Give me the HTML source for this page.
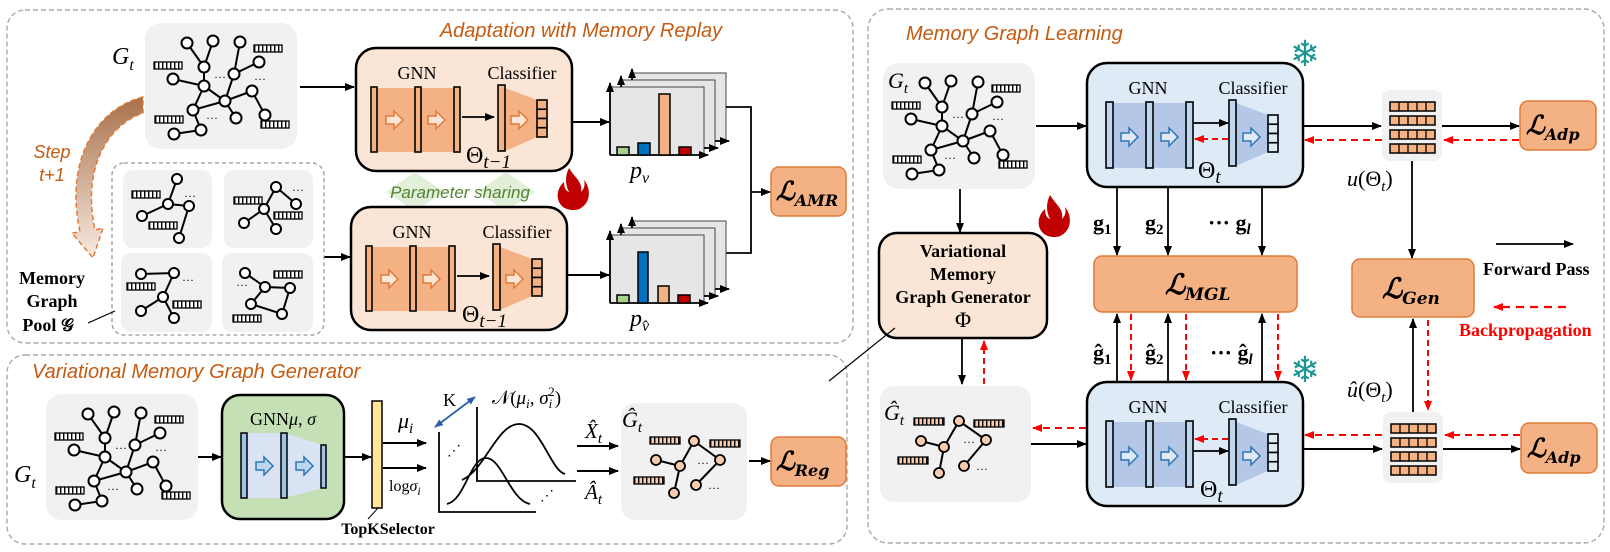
<!DOCTYPE html>
<html><head><meta charset="utf-8"><style>html,body{margin:0;padding:0;background:#fff}svg{display:block}</style></head><body>
<svg width="1610" height="552" viewBox="0 0 1610 552" xmlns="http://www.w3.org/2000/svg" font-family="Liberation Serif, serif">
<defs>
<marker id="ab" viewBox="0 0 10 8" refX="9" refY="4" markerWidth="10" markerHeight="8" markerUnits="userSpaceOnUse" orient="auto"><path d="M0,0 L10,4 L0,8 Z" fill="#000"/></marker>
<marker id="ar" viewBox="0 0 10 8" refX="9" refY="4" markerWidth="10" markerHeight="8" markerUnits="userSpaceOnUse" orient="auto"><path d="M0,0 L10,4 L0,8 Z" fill="#f00"/></marker>
<marker id="abl" viewBox="0 0 10 8" refX="9" refY="4" markerWidth="9" markerHeight="7" markerUnits="userSpaceOnUse" orient="auto-start-reverse"><path d="M0,0 L10,4 L0,8 Z" fill="#2e5fa6"/></marker>
<pattern id="st" width="4" height="8" patternUnits="userSpaceOnUse"><rect width="4" height="8" fill="#fff"/><rect width="1.4" height="8" fill="#000"/></pattern>
<pattern id="sto" width="4" height="8" patternUnits="userSpaceOnUse"><rect width="4" height="8" fill="#f8cbad"/><rect width="1.4" height="8" fill="#000"/></pattern>
<linearGradient id="stepg" x1="0" y1="0" x2="0" y2="1"><stop offset="0" stop-color="#a8704a"/><stop offset="1" stop-color="#f8ebe2"/></linearGradient>
<g id="feat"><rect x="0" y="0" width="28" height="7" fill="url(#st)" stroke="#000" stroke-width="1.3"/></g>
<g id="featO"><rect x="0" y="0" width="30" height="7" fill="url(#sto)" stroke="#000" stroke-width="1.3"/></g>
<path id="harr" d="M-8,-4 H0 V-9 L9,0 L0,9 V4 H-8 Z"/>
<g id="graph">
<rect x="0" y="0" width="152" height="126" rx="16" fill="#f1f1f1"/>
<g stroke="#000" stroke-width="2" fill="none">
<path d="M42,20 L59,44 M68,18 L59,44 M59,44 L59,63 M28,56 L59,63 M95,19 L89,51 M114,39 L89,51 M89,51 L80,78 M59,63 L80,78 M80,78 L107,68 M107,68 L120,92 M80,78 L91,95 M80,78 L48,87 M59,63 L48,87 M48,87 L56,107 M56,107 L29,111"/>
</g>
<g fill="#fff" stroke="#000" stroke-width="2">
<circle cx="42" cy="20" r="5.5"/><circle cx="68" cy="18" r="5.5"/><circle cx="95" cy="19" r="5.5"/><circle cx="59" cy="44" r="5.5"/><circle cx="89" cy="51" r="5.5"/><circle cx="114" cy="39" r="5.5"/><circle cx="28" cy="56" r="5.5"/><circle cx="59" cy="63" r="5.5"/><circle cx="107" cy="68" r="5.5"/><circle cx="80" cy="78" r="5.5"/><circle cx="48" cy="87" r="5.5"/><circle cx="91" cy="95" r="5.5"/><circle cx="120" cy="92" r="5.5"/><circle cx="56" cy="107" r="5.5"/><circle cx="29" cy="111" r="5.5"/>
</g>
<use href="#feat" x="9" y="39"/><use href="#feat" x="109" y="22"/><use href="#feat" x="10" y="93"/><use href="#feat" x="116" y="98"/>
<text x="75" y="58" font-size="12" text-anchor="middle">···</text><text x="115" y="60" font-size="12" text-anchor="middle">···</text><text x="67" y="99" font-size="12" text-anchor="middle">···</text>
</g>
<g id="mO">
<rect x="0" y="0" width="216" height="123" rx="20" fill="#fbe5d6" stroke="#000" stroke-width="2.5"/>
<rect x="18" y="40" width="83" height="64" fill="#f4b183"/>
<polygon points="149,40 181,52 181,89 149,103" fill="#f4b183"/>
<g fill="#f4b183" stroke="#000" stroke-width="1.6"><rect x="15" y="39" width="6" height="65"/><rect x="59" y="39" width="6" height="65"/><rect x="98" y="39" width="6" height="65"/><rect x="142" y="37" width="7" height="66"/></g>
<g fill="#f4b183" stroke="#000" stroke-width="1.6"><rect x="181" y="52" width="10" height="9.25"/><rect x="181" y="61.25" width="10" height="9.25"/><rect x="181" y="70.5" width="10" height="9.25"/><rect x="181" y="79.75" width="10" height="9.25"/></g>
<g fill="#fbe5d6" stroke="#e07b39" stroke-width="1.5"><use href="#harr" x="38" y="72"/><use href="#harr" x="80" y="72"/><use href="#harr" x="163" y="72"/></g>
<line x1="106" y1="69" x2="138" y2="69" stroke="#000" stroke-width="1.8" marker-end="url(#ab)"/>
<text x="61" y="31" font-size="18" text-anchor="middle">GNN</text><text x="166" y="31" font-size="18" text-anchor="middle">Classifier</text>
</g>
<g id="mB">
<rect x="0" y="0" width="216" height="124" rx="20" fill="#deebf7" stroke="#000" stroke-width="2.5"/>
<rect x="20" y="40" width="81" height="65" fill="#b4c7e7"/>
<polygon points="149,40 181,52 181,89 149,103" fill="#b4c7e7"/>
<g fill="#bdd7ee" stroke="#000" stroke-width="1.6"><rect x="19" y="39" width="7" height="66"/><rect x="59" y="39" width="7" height="66"/><rect x="99" y="39" width="7" height="66"/><rect x="142" y="37" width="7" height="66"/></g>
<g fill="#deebf7" stroke="#000" stroke-width="1.6"><rect x="181" y="52" width="10" height="9.25"/><rect x="181" y="61.25" width="10" height="9.25"/><rect x="181" y="70.5" width="10" height="9.25"/><rect x="181" y="79.75" width="10" height="9.25"/></g>
<g fill="#deebf7" stroke="#2e75b6" stroke-width="1.5"><use href="#harr" x="42" y="74"/><use href="#harr" x="82" y="74"/><use href="#harr" x="164" y="74"/></g>
<text x="61" y="31" font-size="18" text-anchor="middle">GNN</text><text x="166" y="31" font-size="18" text-anchor="middle">Classifier</text>
</g>
<g id="chart">
<rect x="22" y="-14" width="94" height="68" fill="#e7e6e6" stroke="#444" stroke-width="1"/>
<rect x="11" y="-7" width="94" height="68" fill="#e7e6e6" stroke="#444" stroke-width="1"/>
<rect x="0" y="0" width="94" height="68" fill="#e7e6e6" stroke="#444" stroke-width="1"/>
<g stroke="#000" stroke-width="1.8" fill="none">
<line x1="0" y1="68" x2="0" y2="-4" marker-end="url(#ab)"/><line x1="0" y1="68" x2="98" y2="68" marker-end="url(#ab)"/>
<line x1="11" y1="0" x2="11" y2="-11" marker-end="url(#ab)"/><line x1="94" y1="61" x2="108" y2="61" marker-end="url(#ab)"/>
<line x1="22" y1="-7" x2="22" y2="-18" marker-end="url(#ab)"/><line x1="105" y1="54" x2="119" y2="54" marker-end="url(#ab)"/>
</g>
</g>
<g id="ember">
<rect x="0" y="0" width="60" height="71" rx="8" fill="#f1f1f1"/>
<g fill="#f4b183" stroke="#000" stroke-width="1.5">
<rect x="8" y="12" width="45" height="9"/><rect x="8" y="26" width="45" height="9"/><rect x="8" y="40" width="45" height="9"/><rect x="8" y="54" width="45" height="9"/>
</g>
<g stroke="#000" stroke-width="1.3"><path d="M17,12 v9 M26,12 v9 M35,12 v9 M44,12 v9 M17,26 v9 M26,26 v9 M35,26 v9 M44,26 v9 M17,40 v9 M26,40 v9 M35,40 v9 M44,40 v9 M17,54 v9 M26,54 v9 M35,54 v9 M44,54 v9"/></g>
</g>
<path id="fire" d="M14,0 C20,10 28,14 26,24 C30,20 30,16 29,12 C36,20 36,34 26,40 C22,43 12,43 7,38 C0,31 2,20 9,14 C9,20 11,23 14,24 C10,16 10,8 14,0 Z" fill="#c00000"/>
</defs>

<!-- panels -->
<rect x="7" y="10" width="846" height="333" rx="18" fill="none" stroke="#aaa" stroke-width="1.4" stroke-dasharray="5,3"/>
<rect x="7" y="355" width="840" height="189" rx="18" fill="none" stroke="#aaa" stroke-width="1.4" stroke-dasharray="5,3"/>
<rect x="868" y="9" width="736" height="534" rx="20" fill="none" stroke="#aaa" stroke-width="1.4" stroke-dasharray="5,3"/>

<!-- ===== top-left ===== -->
<text x="581" y="37" font-family="Liberation Sans, sans-serif" font-style="italic" font-size="20" fill="#c55a11" text-anchor="middle">Adaptation with Memory Replay</text>
<use href="#graph" x="145" y="23"/>
<text x="112" y="64" font-size="24" font-style="italic">G<tspan font-size="16" dy="6">t</tspan></text>
<line x1="300" y1="87" x2="354" y2="87" stroke="#000" stroke-width="2" marker-end="url(#ab)"/>
<use href="#mO" x="356" y="48"/>
<text x="466" y="163" font-size="24">Θ<tspan font-size="19" font-style="italic" dy="5">t−1</tspan></text>
<line x1="572" y1="122" x2="609" y2="122" stroke="#000" stroke-width="2" marker-end="url(#ab)"/>
<use href="#chart" x="610" y="87"/>
<g stroke="#000" stroke-width="1.5"><rect x="617" y="147" width="12" height="8" fill="#a9d18e"/><rect x="638" y="143" width="12" height="12" fill="#0070c0"/><rect x="659" y="94" width="11" height="61" fill="#f4b183"/><rect x="679" y="147" width="12" height="8" fill="#c00000"/></g>
<text x="630" y="178" font-size="24" font-style="italic">p<tspan font-size="16" dy="5">v</tspan></text>

<path d="M726,107 H751 V253 H726" fill="none" stroke="#000" stroke-width="1.8"/>
<line x1="751" y1="192" x2="770" y2="192" stroke="#000" stroke-width="1.8" marker-end="url(#ab)"/>
<rect x="771" y="167" width="75" height="49" rx="8" fill="#f4b183" stroke="#e07b39" stroke-width="1.5"/>
<text x="776" y="200" font-family="DejaVu Serif, serif" font-weight="bold" font-style="italic" font-size="26">ℒ<tspan font-size="16" dy="6">AMR</tspan></text>

<!-- parameter sharing -->
<polygon points="415,172 444,192 415,211 386,192" fill="#e2f0d9"/>
<polygon points="506,172 535,192 506,211 477,192" fill="#e2f0d9"/>
<text x="460" y="198" font-family="Liberation Sans, sans-serif" font-style="italic" font-size="17" fill="#548235" text-anchor="middle">Parameter sharing</text>
<use href="#fire" x="555" y="168"/>

<use href="#mO" x="351" y="207"/>
<text x="462" y="322" font-size="24">Θ<tspan font-size="19" font-style="italic" dy="5">t−1</tspan></text>
<line x1="324" y1="257" x2="350" y2="257" stroke="#000" stroke-width="2" marker-end="url(#ab)"/>
<line x1="567" y1="275" x2="609" y2="275" stroke="#000" stroke-width="2" marker-end="url(#ab)"/>
<use href="#chart" x="610" y="235"/>
<g stroke="#000" stroke-width="1.5"><rect x="617" y="295" width="12" height="8" fill="#a9d18e"/><rect x="638" y="252" width="10" height="51" fill="#0070c0"/><rect x="658" y="286" width="11" height="17" fill="#f4b183"/><rect x="678" y="295" width="12" height="8" fill="#c00000"/></g>
<text x="630" y="326" font-size="24" font-style="italic">p<tspan font-size="16" dy="5">v̂</tspan></text>

<!-- step arrow -->
<path d="M143,97 C98,108 64,158 80,232 L72,233 L93,258 L103,228 L95,230 C82,170 106,126 143,113 Z" fill="url(#stepg)" stroke="#e07b39" stroke-width="1.5" stroke-dasharray="5,3"/>
<text x="52" y="158" font-family="Liberation Sans, sans-serif" font-style="italic" font-size="18" fill="#c55a11" text-anchor="middle">Step</text>
<text x="52" y="181" font-family="Liberation Sans, sans-serif" font-style="italic" font-size="18" fill="#c55a11" text-anchor="middle">t+1</text>

<!-- memory pool -->
<rect x="112" y="163" width="212" height="172" rx="12" fill="none" stroke="#999" stroke-width="1.3" stroke-dasharray="4,3"/>
<rect x="123" y="170" width="89" height="78" rx="10" fill="#f1f1f1"/>
<rect x="224" y="170" width="89" height="78" rx="10" fill="#f1f1f1"/>
<rect x="121" y="253" width="91" height="79" rx="10" fill="#f1f1f1"/>
<rect x="222" y="253" width="91" height="79" rx="10" fill="#f1f1f1"/>
<g stroke="#000" stroke-width="2" fill="none">
<path d="M177,179 L168,204 L142,216 M168,204 L189,206 L179,238"/>
<path d="M276,187 L296,204 M276,187 L264,209 L244,223 M264,209 L276,229"/>
<path d="M141,274 L174,273 L163,297 L141,311 M163,297 L174,318"/>
<path d="M245,273 L265,287 L290,288 L282,314 L251,304 L265,287"/>
</g>
<g fill="#fff" stroke="#000" stroke-width="2">
<circle cx="177" cy="179" r="5"/><circle cx="168" cy="204" r="5"/><circle cx="142" cy="216" r="5"/><circle cx="189" cy="206" r="5"/><circle cx="179" cy="238" r="5"/>
<circle cx="276" cy="187" r="5"/><circle cx="296" cy="204" r="5"/><circle cx="264" cy="209" r="5"/><circle cx="244" cy="223" r="5"/><circle cx="276" cy="229" r="5"/>
<circle cx="141" cy="274" r="5"/><circle cx="174" cy="273" r="5"/><circle cx="163" cy="297" r="5"/><circle cx="141" cy="311" r="5"/><circle cx="174" cy="318" r="5"/>
<circle cx="245" cy="273" r="5"/><circle cx="265" cy="287" r="5"/><circle cx="290" cy="288" r="5"/><circle cx="251" cy="304" r="5"/><circle cx="282" cy="314" r="5"/>
</g>
<use href="#feat" x="132" y="191"/><use href="#feat" x="149" y="222"/><use href="#feat" x="234" y="197"/><use href="#feat" x="274" y="212"/>
<use href="#feat" x="127" y="283"/><use href="#feat" x="173" y="301"/><use href="#feat" x="274" y="271"/><use href="#feat" x="233" y="315"/>
<g font-size="12" text-anchor="middle"><text x="190" y="200">···</text><text x="298" y="194">···</text><text x="188" y="284">···</text><text x="242" y="289">···</text></g>
<g font-weight="bold" font-size="18" text-anchor="middle"><text x="52" y="284">Memory</text><text x="52" y="307">Graph</text><text x="48" y="331">Pool 𝒢</text></g>
<line x1="88" y1="323" x2="115" y2="311" stroke="#000" stroke-width="1.2"/>

<!-- ===== bottom-left ===== -->
<text x="32" y="378" font-family="Liberation Sans, sans-serif" font-style="italic" font-size="20" fill="#c55a11">Variational Memory Graph Generator</text>
<use href="#graph" x="46" y="394"/>
<text x="14" y="482" font-size="24" font-style="italic">G<tspan font-size="16" dy="6">t</tspan></text>
<line x1="198" y1="457" x2="221" y2="457" stroke="#000" stroke-width="2" marker-end="url(#ab)"/>
<rect x="222" y="395" width="122" height="124" rx="18" fill="#c5e0b4" stroke="#000" stroke-width="2.5"/>
<polygon points="246,433 284,433 323,445 323,488 284,498 246,498" fill="#dae3f3"/>
<g fill="#9dc3e6" stroke="#000" stroke-width="1.5"><rect x="241" y="433" width="6" height="65"/><rect x="281" y="433" width="6" height="65"/><rect x="321" y="445" width="5" height="43"/></g>
<g fill="#bdd7ee" stroke="#2e75b6" stroke-width="1.5"><use href="#harr" x="264" y="466"/><use href="#harr" x="304" y="466"/></g>
<text x="283" y="425" font-size="18" text-anchor="middle">GNN<tspan font-style="italic">μ</tspan>, <tspan font-style="italic">σ</tspan></text>
<line x1="345" y1="457" x2="371" y2="457" stroke="#000" stroke-width="2" marker-end="url(#ab)"/>
<rect x="372" y="401" width="10" height="107" fill="#ffe699" stroke="#000" stroke-width="1.5"/>
<line x1="378" y1="508" x2="368" y2="519" stroke="#000" stroke-width="1"/>
<text x="388" y="534" font-weight="bold" font-size="16" text-anchor="middle">TopKSelector</text>
<text x="398" y="428" font-size="22" font-style="italic">μ<tspan font-size="15" dy="5">i</tspan></text>
<line x1="383" y1="443" x2="426" y2="443" stroke="#000" stroke-width="2" marker-end="url(#ab)"/>
<line x1="383" y1="468" x2="426" y2="468" stroke="#000" stroke-width="2" marker-end="url(#ab)"/>
<text x="389" y="491" font-size="16">log<tspan font-style="italic">σ</tspan><tspan font-size="12" font-style="italic" dy="4">i</tspan></text>
<path d="M439,432 V512 H536" fill="none" stroke="#000" stroke-width="1.8"/>
<path d="M477,407 V481 H576" fill="none" stroke="#000" stroke-width="1.8"/>
<path d="M447,504 C465,500 470,458 486,458 C502,458 510,500 530,504" fill="none" stroke="#000" stroke-width="1.8"/>
<path d="M462,480 C485,470 497,424 519,424 C541,424 550,470 565,474" fill="none" stroke="#000" stroke-width="1.8"/>
<text x="447" y="455" font-size="14">⋰</text><text x="540" y="500" font-size="14">⋰</text>
<line x1="435" y1="427" x2="475" y2="397" stroke="#2e5fa6" stroke-width="1.8" marker-start="url(#abl)" marker-end="url(#abl)"/>
<text x="443" y="406" font-size="18">K</text>
<text x="492" y="404" font-size="19">𝒩(<tspan font-style="italic">μ</tspan><tspan font-size="13" font-style="italic" dy="4">i</tspan><tspan dy="-4">, </tspan><tspan font-style="italic">σ</tspan><tspan font-size="13" font-style="italic" dy="4">i</tspan><tspan font-size="13" dx="-4" dy="-12">2</tspan><tspan dy="8">)</tspan></text>
<text x="585" y="438" font-size="21" font-style="italic">X̂<tspan font-size="15" dy="5">t</tspan></text>
<line x1="577" y1="446" x2="618" y2="446" stroke="#000" stroke-width="2" marker-end="url(#ab)"/>
<line x1="577" y1="471" x2="618" y2="471" stroke="#000" stroke-width="2" marker-end="url(#ab)"/>
<text x="585" y="499" font-size="21" font-style="italic">Â<tspan font-size="15" dy="5">t</tspan></text>
<rect x="621" y="403" width="126" height="117" rx="14" fill="#f1f1f1"/>
<text x="622" y="427" font-size="22" font-style="italic">Ĝ<tspan font-size="15" dy="5">t</tspan></text>
<g stroke="#000" stroke-width="2" fill="none"><path d="M694,441 L680,466 L656,460 M694,441 L720,460 L696,485 M680,466 L674,493"/></g>
<g fill="#f8cbad" stroke="#000" stroke-width="1.8"><circle cx="694" cy="441" r="5"/><circle cx="656" cy="460" r="5"/><circle cx="680" cy="466" r="5"/><circle cx="720" cy="460" r="5"/><circle cx="696" cy="485" r="5"/><circle cx="674" cy="493" r="5"/></g>
<use href="#featO" x="650" y="437"/><use href="#featO" x="710" y="440"/><use href="#featO" x="634" y="477"/>
<text x="703" y="467" font-size="12" text-anchor="middle">···</text><text x="714" y="492" font-size="12" text-anchor="middle">···</text>
<line x1="749" y1="461" x2="770" y2="461" stroke="#000" stroke-width="2" marker-end="url(#ab)"/>
<rect x="771" y="437" width="75" height="49" rx="8" fill="#f4b183" stroke="#e07b39" stroke-width="1.5"/>
<text x="776" y="470" font-family="DejaVu Serif, serif" font-weight="bold" font-style="italic" font-size="26">ℒ<tspan font-size="16" dy="6">Reg</tspan></text>

<!-- ===== right ===== -->
<text x="906" y="40" font-family="Liberation Sans, sans-serif" font-style="italic" font-size="20" fill="#c55a11">Memory Graph Learning</text>
<use href="#graph" x="883" y="63"/>
<text x="888" y="88" font-size="22" font-style="italic">G<tspan font-size="15" dy="5">t</tspan></text>
<line x1="1036" y1="126" x2="1086" y2="126" stroke="#000" stroke-width="2" marker-end="url(#ab)"/>
<use href="#mB" x="1087" y="63"/>
<line x1="1193" y1="123" x2="1228" y2="123" stroke="#000" stroke-width="1.8" marker-end="url(#ab)"/>
<line x1="1228" y1="139" x2="1195" y2="139" stroke="#f00" stroke-width="2" stroke-dasharray="6,4" marker-end="url(#ar)"/>
<text x="1198" y="178" font-size="24">Θ<tspan font-size="19" font-style="italic" dy="5">t</tspan></text>
<text x="1305" y="66" font-family="DejaVu Sans, sans-serif" font-size="36" fill="#1a9696" text-anchor="middle">❄</text>
<use href="#ember" x="1382" y="90"/>
<line x1="1303" y1="126" x2="1381" y2="126" stroke="#000" stroke-width="2" marker-end="url(#ab)"/>
<line x1="1382" y1="140" x2="1305" y2="140" stroke="#f00" stroke-width="2" stroke-dasharray="7,5" marker-end="url(#ar)"/>
<line x1="1442" y1="126" x2="1519" y2="126" stroke="#000" stroke-width="2" marker-end="url(#ab)"/>
<line x1="1519" y1="140" x2="1444" y2="140" stroke="#f00" stroke-width="2" stroke-dasharray="7,5" marker-end="url(#ar)"/>
<rect x="1520" y="101" width="76" height="49" rx="8" fill="#f4b183" stroke="#e07b39" stroke-width="1.5"/>
<text x="1526" y="134" font-family="DejaVu Serif, serif" font-weight="bold" font-style="italic" font-size="26">ℒ<tspan font-size="16" dy="6">Adp</tspan></text>
<text x="1347" y="186" font-size="22"><tspan font-style="italic">u</tspan>(Θ<tspan font-size="15" font-style="italic" dy="5">t</tspan><tspan dy="-5">)</tspan></text>
<line x1="1412" y1="161" x2="1412" y2="258" stroke="#000" stroke-width="1.8" marker-end="url(#ab)"/>
<rect x="1352" y="259" width="122" height="58" rx="8" fill="#f4b183" stroke="#e07b39" stroke-width="1.5"/>
<text x="1382" y="298" font-family="DejaVu Serif, serif" font-weight="bold" font-style="italic" font-size="28">ℒ<tspan font-size="17" dy="6">Gen</tspan></text>
<line x1="1496" y1="244" x2="1573" y2="244" stroke="#000" stroke-width="1.8" marker-end="url(#ab)"/>
<text x="1483" y="275" font-weight="bold" font-size="18">Forward Pass</text>
<line x1="1566" y1="307" x2="1494" y2="307" stroke="#f00" stroke-width="2.2" stroke-dasharray="8,6" marker-end="url(#ar)"/>
<text x="1459" y="336" font-weight="bold" font-size="18" fill="#f00">Backpropagation</text>

<!-- VMGG -->
<line x1="960" y1="189" x2="960" y2="232" stroke="#000" stroke-width="1.8" marker-end="url(#ab)"/>
<rect x="879" y="233" width="168" height="105" rx="18" fill="#fbe5d6" stroke="#000" stroke-width="2.5"/>
<g font-weight="bold" font-size="18" text-anchor="middle"><text x="963" y="257">Variational</text><text x="963" y="280">Memory</text><text x="963" y="303">Graph Generator</text></g>
<text x="963" y="327" font-size="22" text-anchor="middle">Φ</text>
<use href="#fire" x="1036" y="195"/>
<line x1="895" y1="328" x2="829" y2="381" stroke="#000" stroke-width="1.2"/>
<line x1="962" y1="338" x2="962" y2="384" stroke="#000" stroke-width="1.8" marker-end="url(#ab)"/>
<line x1="984" y1="384" x2="984" y2="341" stroke="#f00" stroke-width="2" stroke-dasharray="6,4" marker-end="url(#ar)"/>

<!-- g arrows -->
<g stroke="#000" stroke-width="1.8">
<line x1="1117" y1="187" x2="1117" y2="255" marker-end="url(#ab)"/><line x1="1168" y1="187" x2="1168" y2="255" marker-end="url(#ab)"/><line x1="1262" y1="187" x2="1262" y2="255" marker-end="url(#ab)"/>
</g>
<g font-weight="bold" font-size="22"><text x="1093" y="230">g<tspan font-size="15" dy="4">1</tspan></text><text x="1145" y="230">g<tspan font-size="15" dy="4">2</tspan></text><text x="1208" y="230">··· g<tspan font-size="15" font-style="italic" dy="4">l</tspan></text></g>
<rect x="1094" y="256" width="203" height="56" rx="8" fill="#f4b183" stroke="#e07b39" stroke-width="1.5"/>
<text x="1165" y="294" font-family="DejaVu Serif, serif" font-weight="bold" font-style="italic" font-size="28">ℒ<tspan font-size="17" dy="6">MGL</tspan></text>
<g stroke="#000" stroke-width="1.8">
<line x1="1117" y1="382" x2="1117" y2="314" marker-end="url(#ab)"/><line x1="1168" y1="382" x2="1168" y2="314" marker-end="url(#ab)"/><line x1="1262" y1="382" x2="1262" y2="314" marker-end="url(#ab)"/>
</g>
<g stroke="#f00" stroke-width="2" stroke-dasharray="6,4">
<line x1="1131" y1="314" x2="1131" y2="380" marker-end="url(#ar)"/><line x1="1186" y1="314" x2="1186" y2="380" marker-end="url(#ar)"/><line x1="1278" y1="314" x2="1278" y2="380" marker-end="url(#ar)"/>
</g>
<g font-weight="bold" font-size="22"><text x="1093" y="360">ĝ<tspan font-size="15" dy="4">1</tspan></text><text x="1145" y="360">ĝ<tspan font-size="15" dy="4">2</tspan></text><text x="1210" y="360">··· ĝ<tspan font-size="15" font-style="italic" dy="4">l</tspan></text></g>

<!-- bottom right -->
<rect x="880" y="386" width="151" height="116" rx="14" fill="#f1f1f1"/>
<text x="884" y="420" font-size="22" font-style="italic">Ĝ<tspan font-size="15" dy="5">t</tspan></text>
<g stroke="#000" stroke-width="2" fill="none"><path d="M959,421 L944,447 L921,441 M959,421 L986,440 L964,466 M944,447 L939,473"/></g>
<g fill="#f8cbad" stroke="#000" stroke-width="1.8"><circle cx="959" cy="421" r="5"/><circle cx="921" cy="441" r="5"/><circle cx="944" cy="447" r="5"/><circle cx="986" cy="440" r="5"/><circle cx="964" cy="466" r="5"/><circle cx="939" cy="473" r="5"/></g>
<use href="#featO" x="914" y="418"/><use href="#featO" x="974" y="420"/><use href="#featO" x="898" y="457"/>
<text x="969" y="446" font-size="12" text-anchor="middle">···</text><text x="982" y="473" font-size="12" text-anchor="middle">···</text>
<line x1="1031" y1="444" x2="1086" y2="444" stroke="#000" stroke-width="2" marker-end="url(#ab)"/>
<line x1="1086" y1="428" x2="1033" y2="428" stroke="#f00" stroke-width="2" stroke-dasharray="7,5" marker-end="url(#ar)"/>
<use href="#mB" x="1087" y="382"/>
<line x1="1193" y1="451" x2="1228" y2="451" stroke="#000" stroke-width="1.8" marker-end="url(#ab)"/>
<line x1="1228" y1="439" x2="1195" y2="439" stroke="#f00" stroke-width="2" stroke-dasharray="6,4" marker-end="url(#ar)"/>
<text x="1200" y="497" font-size="24">Θ<tspan font-size="19" font-style="italic" dy="5">t</tspan></text>
<text x="1305" y="382" font-family="DejaVu Sans, sans-serif" font-size="36" fill="#1a9696" text-anchor="middle">❄</text>
<text x="1347" y="397" font-size="22"><tspan font-style="italic">û</tspan>(Θ<tspan font-size="15" font-style="italic" dy="5">t</tspan><tspan dy="-5">)</tspan></text>
<line x1="1413" y1="412" x2="1413" y2="319" stroke="#000" stroke-width="1.8" marker-end="url(#ab)"/>
<line x1="1428" y1="320" x2="1428" y2="410" stroke="#f00" stroke-width="2" stroke-dasharray="6,4" marker-end="url(#ar)"/>
<use href="#ember" x="1383" y="412"/>
<line x1="1303" y1="449" x2="1382" y2="449" stroke="#000" stroke-width="2" marker-end="url(#ab)"/>
<line x1="1382" y1="435" x2="1305" y2="435" stroke="#f00" stroke-width="2" stroke-dasharray="7,5" marker-end="url(#ar)"/>
<line x1="1443" y1="449" x2="1520" y2="449" stroke="#000" stroke-width="2" marker-end="url(#ab)"/>
<line x1="1520" y1="435" x2="1445" y2="435" stroke="#f00" stroke-width="2" stroke-dasharray="7,5" marker-end="url(#ar)"/>
<rect x="1521" y="423" width="76" height="50" rx="8" fill="#f4b183" stroke="#e07b39" stroke-width="1.5"/>
<text x="1527" y="457" font-family="DejaVu Serif, serif" font-weight="bold" font-style="italic" font-size="26">ℒ<tspan font-size="16" dy="6">Adp</tspan></text>
</svg>
</body></html>
